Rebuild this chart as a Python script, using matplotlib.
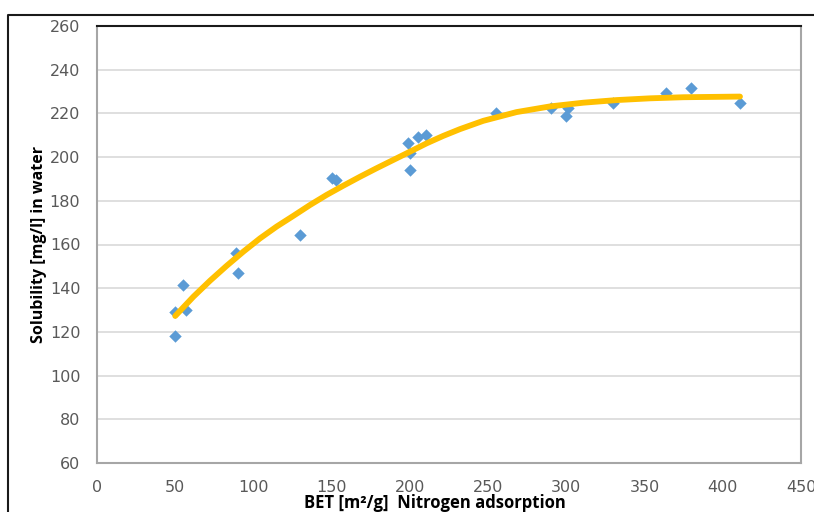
# Solubility vs BET surface area, scatter with the trendline
import matplotlib.pyplot as plt
from matplotlib.lines import Line2D

bet = [50, 50, 55, 57, 89, 90, 130, 150, 153, 199, 200, 200, 205, 210,
       255, 290, 300, 301, 330, 364, 380, 411]
solubility = [129, 118, 141.5, 130, 156, 147, 164.3, 190.5, 189.5, 206.5, 202, 194, 209.2, 210,
              220.2, 222.6, 218.8, 222.5, 224.8, 229.3, 231.6, 224.8]

# trendline as drawn in the chart
trend_x = [50, 61.6, 72.2, 82.8, 93.5, 104.2, 114.8, 125.5, 136.2, 146.8, 157.4, 168.1,
           178.7, 189.4, 200.1, 210.7, 221.3, 232, 246.9, 268.2, 289.6, 310.9, 332.2,
           353.5, 374.8, 411]
trend_y = [127.3, 136.1, 143.4, 150.2, 156.7, 162.8, 168.2, 173.1, 178.1, 182.7, 186.9, 191.0,
           194.9, 198.7, 202.5, 206.3, 209.7, 212.8, 216.6, 220.6, 223.2, 224.9, 226.1,
           226.9, 227.4, 227.7]

x_ticks = list(range(0, 451, 50))
y_ticks = list(range(60, 261, 20))

fig = plt.figure(figsize=(8.14, 5.12), dpi=100)
ax = fig.add_axes([97/814, 1 - 463/512, 704/814, 437/512])

ax.scatter(bet, solubility, marker='D', s=40, color='#5b9bd5', zorder=3, linewidths=0)
ax.plot(trend_x, trend_y, color='#ffc000', lw=4.2, solid_capstyle='round',
        solid_joinstyle='round', zorder=4)

ax.set_xlim(0, 450)
ax.set_ylim(60, 260)
ax.set_xticks(x_ticks)
ax.set_yticks(y_ticks)
ax.yaxis.grid(True, color='#d9d9d9', lw=1.2)
ax.set_axisbelow(True)

for side in ['left', 'right', 'bottom']:
    ax.spines[side].set_color('#a6a6a6')
    ax.spines[side].set_linewidth(1.5)
ax.spines['top'].set_color('#1a1a1a')
ax.spines['top'].set_linewidth(1.5)

tick_font = ['Liberation Sans Narrow', 'DejaVu Sans']
ax.tick_params(length=0, colors='#595959', labelsize=11.5, pad=12)
for lab in ax.get_xticklabels() + ax.get_yticklabels():
    lab.set_family(tick_font)
    lab.set_color('#595959')

ax.set_ylabel('Solubility [mg/l] in water', fontsize=11.5, fontweight='bold',
              family='Open Sans', labelpad=0)
ax.yaxis.set_label_coords(-0.071, 0.5)
ax.set_xlabel('BET [m²/g]  Nitrogen adsorption', fontsize=12, fontweight='bold',
              family='Open Sans', labelpad=0)
ax.xaxis.set_label_coords(0.48, -0.103)
ax.xaxis.label.set_va('baseline')

# outer chart frame (cropped)
fy = 1 - 15/512
fx = 8/814
fig.add_artist(Line2D([fx, fx, 1], [0, fy, fy], color='#1a1a1a', lw=1.5,
                      transform=fig.transFigure))

fig.savefig('out.png', dpi=100)
